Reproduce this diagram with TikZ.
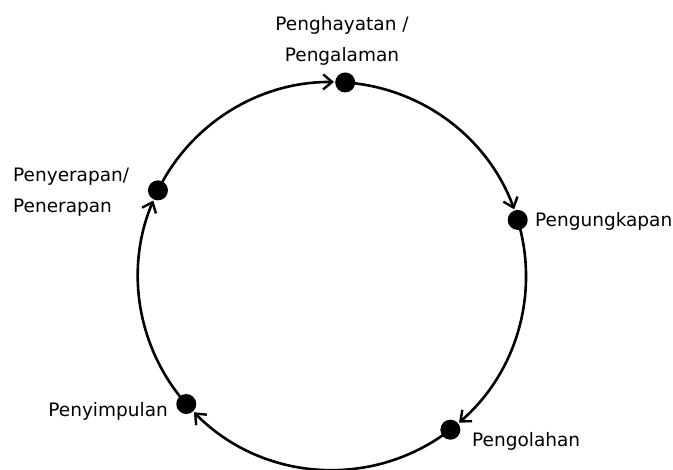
\documentclass[tikz,border=0pt]{standalone}
\usepackage{fontspec}
\setmainfont{DejaVu Sans}
\usetikzlibrary{arrows.meta,calc}
\begin{document}
\begin{tikzpicture}[x=1pt,y=-1pt,
  ring/.style={line width=2.6pt,black},
  flow/.style={ring,-{Straight Barb[length=9pt,width=15pt,line width=2.4pt]}},
  dot/.style={circle,fill=black,inner sep=0pt,minimum size=20pt},
  lbl/.style={font=\fontsize{18.5}{31}\selectfont,inner sep=0pt}]
\useasboundingbox (0,0) rectangle (673,470);
\coordinate (c) at (332,276);
\def\R{194}
% dot positions (y axis flipped: angles grow clockwise)
\coordinate (p1) at ($(c)+(-86.1:\R)$);
\coordinate (p2) at ($(c)+(-16.8:\R)$);
\coordinate (p3) at ($(c)+(52.4:\R)$);
\coordinate (p4) at ($(c)+(138.7:\R)$);
\coordinate (p5) at ($(c)+(206.2:\R)$);
% arcs between the stages
\draw[flow] (p1) arc[start angle=-86.1, end angle=-20.1, radius=\R];
\draw[flow] (p2) arc[start angle=-16.8, end angle=49.1, radius=\R];
\draw[flow] (p3) arc[start angle=52.4, end angle=135.4, radius=\R];
\draw[flow] (p4) arc[start angle=138.7, end angle=202.9, radius=\R];
\draw[flow] (p5) arc[start angle=206.2, end angle=270.6, radius=\R];
% dots
\node[dot] (d1) at (p1) {};
\node[dot] (d2) at (p2) {};
\node[dot] (d3) at (p3) {};
\node[dot] (d4) at (p4) {};
\node[dot] (d5) at (p5) {};
% labels
\node[lbl,align=center] (t1) at (342,41) {Penghayatan /\\Pengalaman};
\node[lbl,anchor=base west] (t2) at (535,227) {Pengungkapan};
\node[lbl,anchor=base west] (t3) at (472,447) {Pengolahan};
\node[lbl,anchor=base east] (t4) at (168,417) {Penyimpulan};
\node[lbl,align=left,anchor=west] (t5) at (13,192) {Penyerapan/\\Penerapan};
\end{tikzpicture}
\end{document}
